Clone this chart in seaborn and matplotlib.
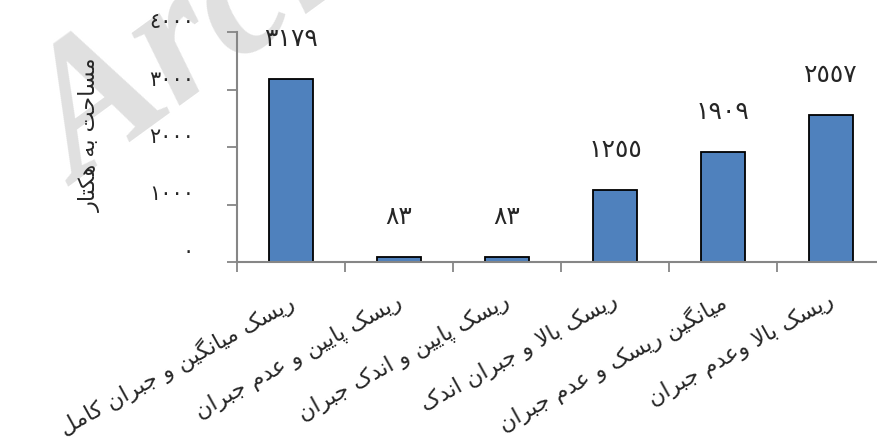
import seaborn as sns
import matplotlib.pyplot as plt
import pandas as pd

categories = [
    "ریسک میانگین و جبران کامل",
    "ریسک پایین و عدم جبران",
    "ریسک پایین و اندک جبران",
    "ریسک بالا و جبران اندک",
    "میانگین ریسک و عدم جبران",
    "ریسک بالا وعدم جبران",
]
areas = [3179, 83, 83, 1255, 1909, 2557]
y_ticks = [0, 1000, 2000, 3000, 4000]
y_label = "مساحت به هکتار"

# matplotlib has no arabic shaping, so map letters to presentation forms by hand
FORMS = {
    "ا": ("\uFE8D", "\uFE8E", None, None),
    "ب": ("\uFE8F", "\uFE90", "\uFE91", "\uFE92"),
    "پ": ("\uFB56", "\uFB57", "\uFB58", "\uFB59"),
    "ت": ("\uFE95", "\uFE96", "\uFE97", "\uFE98"),
    "ج": ("\uFE9D", "\uFE9E", "\uFE9F", "\uFEA0"),
    "ح": ("\uFEA1", "\uFEA2", "\uFEA3", "\uFEA4"),
    "د": ("\uFEA9", "\uFEAA", None, None),
    "ر": ("\uFEAD", "\uFEAE", None, None),
    "س": ("\uFEB1", "\uFEB2", "\uFEB3", "\uFEB4"),
    "ع": ("\uFEC9", "\uFECA", "\uFECB", "\uFECC"),
    "ک": ("\uFB8E", "\uFB8F", "\uFB90", "\uFB91"),
    "گ": ("\uFB92", "\uFB93", "\uFB94", "\uFB95"),
    "ل": ("\uFEDD", "\uFEDE", "\uFEDF", "\uFEE0"),
    "م": ("\uFEE1", "\uFEE2", "\uFEE3", "\uFEE4"),
    "ن": ("\uFEE5", "\uFEE6", "\uFEE7", "\uFEE8"),
    "ه": ("\uFEE9", "\uFEEA", "\uFEEB", "\uFEEC"),
    "و": ("\uFEED", "\uFEEE", None, None),
    "ی": ("\uFBFC", "\uFBFD", "\uFEF3", "\uFEF4"),
}


def dual(c):
    return c in FORMS and FORMS[c][2] is not None


def shape(s):
    res = []
    i = 0
    while i < len(s):
        c = s[i]
        if c not in FORMS:
            res.append(c)
            i += 1
            continue
        from_prev = i > 0 and dual(s[i - 1])
        if c == "ل" and i + 1 < len(s) and s[i + 1] == "ا":
            res.append("\uFEFC" if from_prev else "\uFEFB")
            i += 2
            continue
        to_next = dual(c) and i + 1 < len(s) and s[i + 1] in FORMS
        iso, fin, ini, med = FORMS[c]
        if from_prev and to_next:
            res.append(med)
        elif from_prev:
            res.append(fin)
        elif to_next:
            res.append(ini)
        else:
            res.append(iso)
        i += 1
    return "".join(reversed(res))


def digits(n):
    return str(n).translate(str.maketrans("0123456789", "٠١٢٣٤٥٦٧٨٩"))


sns.set_style("white")
plt.rcParams["font.family"] = ["DejaVu Sans"]

df = pd.DataFrame({"cat": categories, "area": areas})

fig = plt.figure(figsize=(8.78, 4.37), dpi=100)
fig.text(0.0, 0.59, "Archive of SID", fontsize=135, fontweight="bold",
         fontstyle="italic", family="Liberation Serif", color="#e0e0e0",
         rotation=36, ha="left", va="baseline", zorder=0)

ax = fig.add_axes([237 / 878, 1 - 262 / 437, 648 / 878, 230 / 437], zorder=2)
ax.patch.set_alpha(0)

sns.barplot(data=df, x="cat", y="area", color="#4F81BD", saturation=1,
            edgecolor="black", linewidth=1.3, width=0.4, ax=ax)

ax.set_xlim(-0.5, len(categories) - 0.5)
ax.set_ylim(0, 4000)
ax.set_yticks(y_ticks)
ax.set_yticklabels([digits(v) for v in y_ticks], fontsize=15, va="bottom")
ax.tick_params(axis="y", length=7, width=1.3, color="#868686", pad=24, left=True)

ax.set_xticks([i + 0.5 for i in range(-1, len(categories))], minor=True)
ax.set_xticks([])
ax.tick_params(axis="x", which="minor", length=7, width=1.3, color="#868686",
               bottom=True)
ax.set_xlabel("")
ax.set_ylabel("")

for s in ["top", "right"]:
    ax.spines[s].set_visible(False)
for s in ["left", "bottom"]:
    ax.spines[s].set_color("#868686")
    ax.spines[s].set_linewidth(1.5)

for i, v in enumerate(areas):
    ax.annotate(digits(v), xy=(i, v), xytext=(0, 29), textcoords="offset points",
                ha="center", va="center", fontsize=18)

for i, c in enumerate(categories):
    ax.annotate(shape(c), xy=(i - 0.04, 0), xycoords=("data", "axes fraction"),
                xytext=(0, -20), textcoords="offset points", ha="right", va="top",
                rotation=29, rotation_mode="anchor", fontsize=16,
                annotation_clip=False)

fig.text(90 / 878, 1 - 135 / 437, shape(y_label), rotation=90, ha="center",
         va="center", fontsize=16)

fig.savefig("out.png", dpi=100)
